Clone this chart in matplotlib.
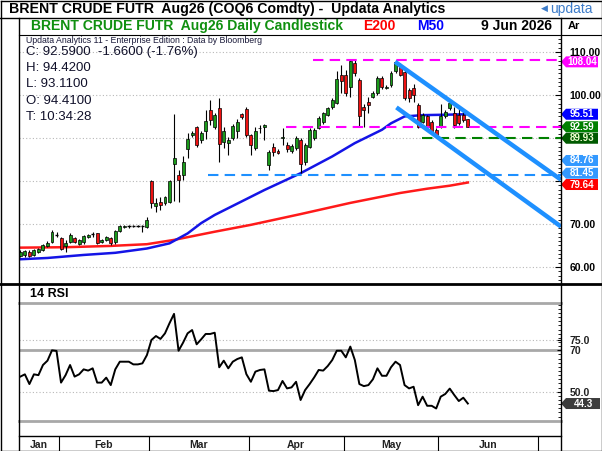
import numpy as np
import pandas as pd
import matplotlib
matplotlib.use("Agg")
import matplotlib.pyplot as plt
from matplotlib.patches import Rectangle, Polygon
from matplotlib.lines import Line2D

plt.rcParams['font.family'] = ['Liberation Sans', 'DejaVu Sans']

# ---------------- data ----------------
opens = [62.6, 62.7, 63.6, 62.8, 63.6, 64.0, 64.9, 65.9, 67.5, 66.7,
         64.8, 65.9, 66.7, 65.4, 65.7, 67.0, 67.6, 67.8, 65.9, 66.3,
         66.7, 65.7, 68.4, 69.3, 69.4, 69.5, 69.5, 69.5, 69.2, 80.1,
         74.2, 75.0, 74.8, 75.0, 84.0, 81.4, 81.4, 87.4, 90.7, 92.5,
         89.5, 91.5, 96.5, 92.6, 97.0, 89.0, 88.8, 90.1, 91.6, 95.5,
         96.8, 90.6, 87.6, 92.2, 92.6, 83.6, 88.0, 87.0, 90.0, 88.4,
         87.0, 87.6, 89.5, 84.3, 88.0, 90.0, 92.3, 93.6, 95.3, 97.1,
         98.2, 104.7, 104.7, 101.8, 107.5, 103.5, 97.3, 98.4, 99.6, 100.5,
         103.9, 101.7, 102.3, 105.5, 107.0, 105.4, 101.2, 101.7, 97.7, 93.8,
         95.0, 93.8, 91.9, 92.6, 95.0, 96.9, 95.7, 95.3, 95.4, 94.41]
highs = [64.0, 64.0, 63.9, 64.3, 64.4, 65.4, 66.0, 68.6, 68.2, 67.0,
         66.3, 67.8, 67.0, 66.6, 67.5, 67.6, 68.2, 68.0, 66.5, 67.2,
         66.9, 68.6, 69.8, 69.8, 69.7, 69.8, 69.8, 69.8, 71.7, 80.2,
         76.0, 76.3, 76.5, 80.3, 95.6, 82.6, 85.7, 91.1, 91.6, 92.8,
         91.6, 96.5, 98.8, 95.8, 99.4, 92.6, 90.3, 93.2, 94.5, 95.8,
         97.3, 91.0, 92.6, 93.0, 93.3, 87.3, 88.9, 87.4, 92.3, 89.0,
         88.6, 90.4, 89.9, 88.8, 92.3, 92.4, 95.0, 96.0, 97.3, 99.3,
         105.5, 107.0, 105.8, 108.1, 108.3, 104.0, 97.8, 99.6, 100.9, 104.4,
         104.3, 102.3, 105.5, 108.1, 107.5, 105.8, 101.6, 102.6, 98.2, 95.8,
         95.4, 94.2, 92.3, 97.8, 96.5, 98.5, 97.3, 96.9, 96.8, 94.42]
lows = [62.3, 62.4, 62.3, 62.6, 63.3, 63.8, 64.7, 65.6, 67.0, 64.0,
        63.6, 65.6, 65.6, 65.1, 65.4, 66.8, 67.0, 65.3, 65.6, 66.0,
        65.2, 65.4, 68.2, 69.0, 69.1, 69.2, 69.2, 68.2, 69.0, 73.7,
        72.9, 73.3, 74.5, 74.8, 75.4, 75.2, 80.2, 85.3, 90.2, 87.8,
        88.8, 89.8, 93.0, 92.0, 84.5, 87.6, 86.0, 89.6, 89.9, 94.4,
        90.3, 86.0, 87.2, 91.1, 89.5, 82.6, 85.7, 86.2, 88.4, 86.7,
        86.6, 87.3, 81.8, 83.8, 87.6, 89.6, 92.0, 93.2, 95.0, 96.8,
        97.8, 100.5, 99.8, 99.6, 104.5, 92.6, 92.6, 95.7, 99.2, 100.0,
        101.3, 101.3, 101.8, 105.2, 104.3, 98.8, 98.4, 98.4, 92.2, 93.4,
        92.2, 91.0, 90.4, 92.3, 94.6, 96.5, 92.3, 93.0, 93.6, 92.45]
closes = [63.5, 63.7, 62.6, 64.0, 64.1, 65.1, 65.6, 68.2, 67.4, 64.3,
          65.5, 67.4, 65.9, 66.3, 67.2, 67.4, 67.6, 65.5, 66.2, 66.9,
          65.5, 68.4, 69.6, 69.6, 69.45, 69.5, 69.55, 69.5, 70.9, 74.8,
          74.8, 74.4, 76.2, 80.1, 85.3, 80.2, 84.5, 89.7, 91.2, 88.4,
          91.2, 94.0, 94.2, 95.3, 88.5, 91.6, 89.5, 92.8, 93.8, 94.8,
          90.8, 88.4, 91.5, 92.4, 93.0, 86.8, 86.7, 86.6, 90.2, 87.4,
          88.2, 89.9, 84.0, 88.3, 91.9, 91.9, 94.6, 95.7, 96.9, 98.8,
          103.6, 103.3, 100.4, 108.0, 105.0, 95.1, 96.4, 97.7, 100.5, 103.9,
          101.8, 101.9, 105.0, 107.7, 104.7, 99.2, 99.2, 100.0, 92.6, 95.3,
          92.6, 91.5, 90.7, 95.0, 96.1, 98.1, 93.0, 93.4, 94.25, 92.59]
rsi = [57.3, 58.4, 53.7, 58.4, 58.0, 62.9, 65.0, 70.0, 69.7, 54.4,
       58.0, 62.9, 57.3, 58.4, 60.8, 60.2, 61.3, 54.4, 54.4, 56.8,
       53.2, 60.8, 64.5, 64.5, 64.5, 63.2, 63.2, 63.7, 67.7, 75.0,
       76.9, 75.5, 78.2, 83.1, 87.6, 69.8, 73.7, 78.2, 79.8, 72.9,
       75.3, 77.9, 77.9, 78.5, 61.8, 65.0, 61.3, 64.5, 65.8, 66.6,
       58.5, 54.8, 59.7, 60.5, 60.8, 50.5, 50.3, 50.8, 55.2, 51.6,
       52.1, 54.8, 46.0, 50.8, 53.7, 56.9, 60.5, 60.2, 62.4, 65.3,
       69.8, 69.8, 66.6, 71.8, 65.3, 53.7, 52.7, 53.2, 56.0, 61.3,
       57.7, 57.7, 61.8, 64.5, 62.9, 53.2, 51.6, 52.4, 43.5, 47.6,
       43.2, 43.2, 41.9, 47.6, 48.9, 51.5, 48.4, 45.5, 47.1, 44.3]
# moving averages at bar positions
e200_bar = [0, 10, 20, 28, 34, 43, 51, 62, 73, 84, 90, 95, 99]
e200_val = [64.5, 64.6, 64.9, 65.3, 66.3, 68.2, 69.8, 72.3, 74.9, 77.2, 78.2, 78.9, 79.64]
m50_bar = [0, 6, 14, 21, 28, 33, 37, 40, 43, 54, 62, 69, 74, 80, 82, 85, 89, 94, 99]
m50_val = [61.8, 62.1, 62.8, 63.3, 64.3, 65.5, 67.8, 70.2, 72.1, 77.9, 81.8, 85.7, 88.8,
           91.9, 93.4, 95.0, 95.3, 95.4, 95.51]
# drawn trend lines (bar, price)
chan_upper = [(82.9, 107.7), (119.6, 80.3)]
chan_lower = [(83.2, 97.1), (119.6, 69.4)]
# horizontal levels: (price, start bar, colour)
levels = [(108.04, 64.7, '#ff00ff'), (92.5, 58.8, '#ff00ff'),
          (89.93, 88.8, '#008000'), (81.45, 41.5, '#1e90ff')]
# right-hand value tags: (value, text, background, text colour, pixel nudge)
tags = [(108.04, '108.04', '#ff00ff', 'white', 1.5), (95.51, '95.51', '#0000ff', 'white', 0),
        (92.59, '92.59', '#008000', 'white', 0), (89.93, '89.93', '#005a00', '#f0ffd0', 0),
        (84.76, '84.76', '#3399ff', 'white', 0), (81.45, '81.45', '#3399ff', 'white', -1.5),
        (79.64, '79.64', '#ff0000', 'white', 2)]
price_ticks = [60, 70, 80, 90, 100, 110]
price_labelled = [60, 70, 100, 110]   # 80 and 90 sit under the value tags
month_names = ['Jan', 'Feb', 'Mar', 'Apr', 'May', 'Jun']
info_lines = ['C: 92.5900  -1.6600 (-1.76%)', 'H: 94.4200', 'L: 93.1100',
              'O: 94.4100', 'T: 10:34:28']

# ---------------- layout ----------------
W, H = 602, 451
fig = plt.figure(figsize=(W / 100, H / 100), dpi=100)
fig.patch.set_facecolor('white')


def fx(px):
    return px / W


def fy(py):
    return 1 - py / H


X0, X1 = 19, 561
P_TOP, P_BOT = 34.7, 282.7
R_TOP, R_BOT = 302.7, 420.7
M_TOP = 436
XMIN = -0.3
XMAX = XMIN + (X1 - X0) / 4.52

axp = fig.add_axes([fx(X0), fy(P_BOT), fx(X1 - X0), (P_BOT - P_TOP) / H])
axr = fig.add_axes([fx(X0), fy(R_BOT), fx(X1 - X0), (R_BOT - R_TOP) / H])
axm = fig.add_axes([fx(X0), 0, fx(X1 - X0), (H - M_TOP) / H])
for a in (axp, axr, axm):
    a.set_xlim(XMIN, XMAX)
    a.set_xticks([])
    a.patch.set_alpha(0)

# ---------------- price panel ----------------
axp.set_ylim(56.35, 114.0)
for s in axp.spines.values():
    s.set_visible(False)
for t in price_ticks:
    axp.axhline(t, color='#b8b8b8', lw=0.8, ls=(0, (1, 2)), zorder=1)

axp.plot(e200_bar, e200_val, color='#ff1a1a', lw=1.8, zorder=2)
axp.plot(m50_bar, m50_val, color='#1414e6', lw=1.8, zorder=2)

for i, (o, h, l, c) in enumerate(zip(opens, highs, lows, closes)):
    axp.vlines(i, l, h, color='black', lw=0.8, zorder=3)
    if abs(c - o) < 0.12:
        axp.hlines(c, i - 0.4, i + 0.4, color='black', lw=1.0, zorder=4)
    else:
        col = '#1a9a1a' if c > o else '#ee1111'
        axp.add_patch(Rectangle((i - 0.33, min(o, c)), 0.66, abs(c - o),
                                facecolor=col, edgecolor='black', lw=0.5, zorder=4))

for val, start, col in levels:
    axp.hlines(val, start, XMAX, color=col, lw=1.5, linestyles=(0, (5, 3)), zorder=5)

for line in (chan_upper, chan_lower):
    xs, ys = zip(*line)
    axp.plot(xs, ys, color='#1e90ff', lw=3.2, solid_capstyle='butt', zorder=6)

axp.yaxis.tick_right()
axp.set_yticks(price_ticks)
axp.set_yticklabels(['%.2f' % t if t in price_labelled else '' for t in price_ticks],
                    fontsize=7.5, fontweight='bold')
axp.set_yticks(np.arange(57, 114, 1), minor=True)
axp.tick_params(axis='y', which='major', direction='in', length=4, pad=6, width=0.8)
axp.tick_params(axis='y', which='minor', direction='in', length=2, width=0.6)

# ---------------- RSI panel ----------------
axr.set_ylim(36.0, 93.0)
for k in ('left', 'right'):
    axr.spines[k].set_visible(False)
for k in ('top', 'bottom'):
    axr.spines[k].set_color('#a8a8a8')
    axr.spines[k].set_linewidth(2)
for t in (50, 75):
    axr.axhline(t, color='#b8b8b8', lw=0.8, ls=(0, (1, 2)), zorder=1)
axr.axhline(70, color='#a8a8a8', lw=2, zorder=1)
axr.plot(np.arange(len(rsi)), rsi, color='black', lw=1.4, zorder=3)
axr.yaxis.tick_right()
axr.set_yticks([50, 70, 75])
axr.set_yticklabels(['50.0', '70', '75.0'], fontsize=7.5, fontweight='bold', color='#222222')
axr.set_yticks(np.arange(38, 93, 2), minor=True)
axr.tick_params(axis='y', which='major', direction='in', length=3, pad=6, width=0.8)
axr.tick_params(axis='y', which='minor', direction='in', length=2, width=0.6)

# ---------------- month axis ----------------
all_days = pd.bdate_range('2026-01-20', '2026-07-15')
all_days = all_days[all_days != pd.Timestamp('2026-04-03')]
bar_days = all_days[all_days <= pd.Timestamp('2026-06-09')]
assert len(bar_days) == len(closes)
mon = np.asarray(all_days.month)
bounds = [i - 0.5 for i in range(1, len(mon)) if mon[i] != mon[i - 1]]
axm.set_ylim(0, 1)
for k in ('left', 'right', 'bottom'):
    axm.spines[k].set_visible(False)
axm.spines['top'].set_linewidth(1)
axm.set_yticks([])
for b in bounds:
    axm.axvline(b, color='black', lw=0.8)
edges = [XMIN] + bounds
for name, a, b in zip(month_names, edges[:-1], edges[1:]):
    axm.text((a + b) / 2, 0.42, name, ha='center', va='center', fontsize=7.5,
             fontweight='bold', color='#222222')


# ---------------- value tags ----------------
def tag(ax, val, txt, bg, fg, dy=0, x_end=598):
    yd = ax.transData.transform((0, val))[1]
    ypx = H - yd + dy
    pts = [(561, ypx), (566, ypx - 5.5), (x_end, ypx - 5.5), (x_end, ypx + 5.5), (566, ypx + 5.5)]
    fig.add_artist(Polygon([(fx(x), fy(y)) for x, y in pts], closed=True,
                           transform=fig.transFigure, facecolor=bg, edgecolor='none', zorder=10))
    fig.text(fx((566 + x_end) / 2), fy(ypx), txt, color=fg, fontsize=7, fontweight='bold',
             ha='center', va='center', zorder=11)


for val, txt, bg, fg, dy in tags:
    tag(axp, val, txt, bg, fg, dy)
tag(axr, rsi[-1], '%.1f' % rsi[-1], '#3c3c3c', 'white', 0, 600)


# ---------------- frame lines ----------------
def fline(x0, y0, x1, y1, lw=1.0, color='black'):
    fig.add_artist(Line2D([fx(x0), fx(x1)], [fy(y0), fy(y1)], transform=fig.transFigure,
                          color=color, lw=lw, zorder=20))


fline(0.5, 0.5, 601.5, 0.5)
fline(0.5, 450.5, 601.5, 450.5)
fline(0.5, 0.5, 0.5, 450.5)
fline(601.5, 0.5, 601.5, 450.5)
fline(0, 17.5, 602, 17.5)
fline(X0, 17.5, X0, 451)
fline(X1, 17.5, X1, 451)
fline(X0, P_TOP, 602, P_TOP, lw=0.8)
fline(0, 283.7, 602, 283.7, lw=2)

# ---------------- texts ----------------
fig.text(fx(9), fy(9), 'BRENT CRUDE FUTR  Aug26 (COQ6 Comdty) -  Updata Analytics',
         fontsize=10.2, fontweight='bold', va='center', ha='left')
fig.text(fx(544), fy(8.5), '\u25c0', fontsize=6.5, color='#3d7cc9', va='center', ha='center',
         family=['DejaVu Sans'])
fig.text(fx(593), fy(8.5), 'updata', fontsize=10, color='#3d7cc9', va='center', ha='right')

fig.text(fx(31), fy(26), 'BRENT CRUDE FUTR  Aug26 Daily Candlestick', fontsize=10.1,
         fontweight='bold', color='#109010', va='center')
fig.text(fx(363), fy(26), 'E200', fontsize=10, fontweight='bold', color='#ff0000', va='center')
fig.text(fx(417), fy(26), 'M50', fontsize=10, fontweight='bold', color='#0000ff', va='center')
fig.text(fx(552), fy(26), '9 Jun 2026', fontsize=10, fontweight='bold', color='black',
         va='center', ha='right')
fig.text(fx(568), fy(26), 'Ar', fontsize=8, fontweight='bold', color='black', va='center')

fig.text(fx(26), fy(40.5), 'Updata Analytics 11 - Enterprise Edition : Data by Bloomberg',
         fontsize=6.3, color='#1a1a3a', va='center')
for k, line in enumerate(info_lines):
    fig.text(fx(26), fy(52 + 16.2 * k), line, fontsize=9.5, color='#10102a', va='center')

fig.text(fx(30), fy(294), '14 RSI', fontsize=9, fontweight='bold', va='center')

fig.savefig('out.png', dpi=100)
